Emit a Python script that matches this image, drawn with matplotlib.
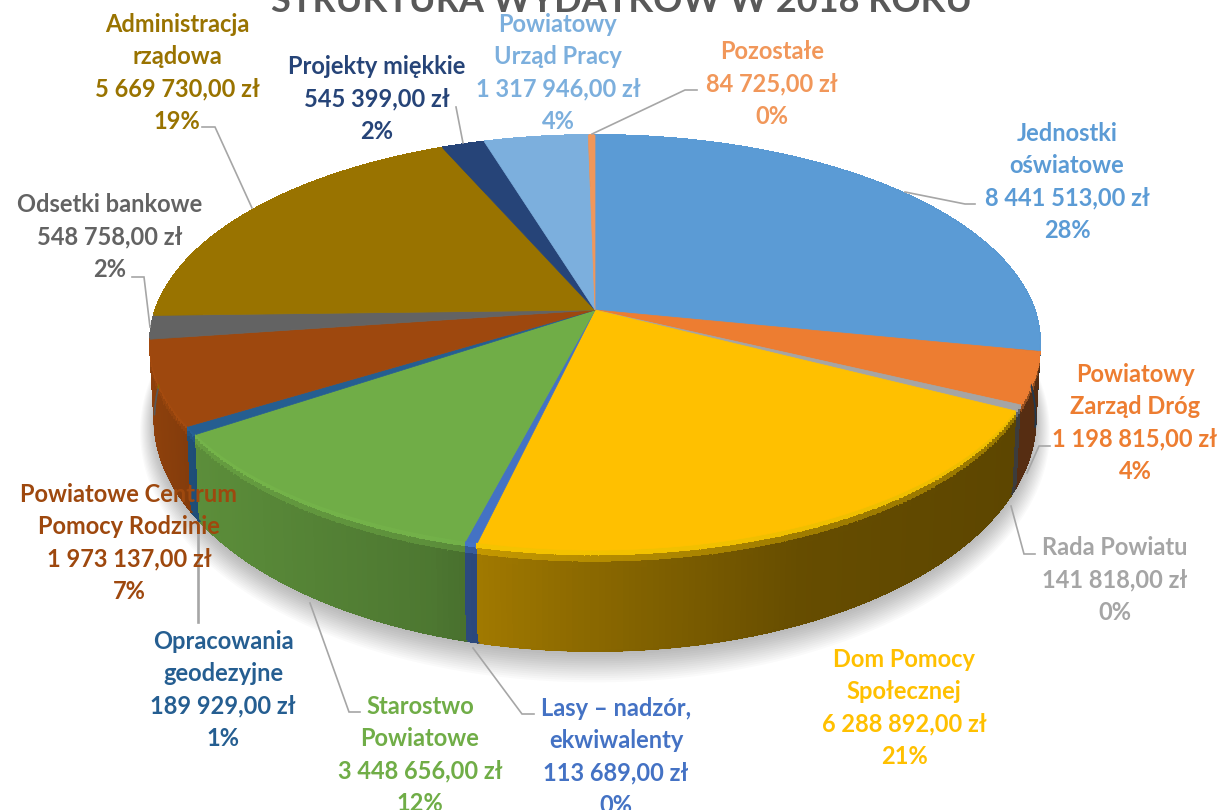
import numpy as np
import matplotlib
matplotlib.use("Agg")
import matplotlib.pyplot as plt
from matplotlib.collections import PolyCollection
from matplotlib.colors import to_rgb

# ---------- data ----------
TITLE = "STRUKTURA WYDATKÓW W 2018 ROKU"
names = ["Jednostki\noświatowe", "Powiatowy\nZarząd Dróg", "Rada Powiatu",
         "Dom Pomocy\nSpołecznej", "Lasy – nadzór,\nekwiwalenty",
         "Starostwo\nPowiatowe", "Opracowania\ngeodezyjne",
         "Powiatowe Centrum\nPomocy Rodzinie", "Odsetki bankowe",
         "Administracja\nrządowa", "Projekty miękkie",
         "Powiatowy\nUrząd Pracy", "Pozostałe"]
values = [8441513, 1198815, 141818, 6288892, 113689, 3448656, 189929,
          1973137, 548758, 5669730, 545399, 1317946, 84725]
colors = ["#5B9BD5", "#ED7D31", "#A5A5A5", "#FFC000", "#4472C4", "#70AD47",
          "#255E91", "#9E480E", "#636363", "#997300", "#264478", "#7CAFDD",
          "#F1975A"]

# ---------- layout (pixel space of the figure) ----------
W, H = 1219, 810
label_x = [1067, 1135, 1115, 904, 616, 420, 223, 129, 110, 177, 377, 558, 772]
label_y = [182, 423, 580, 708, 757, 755, 690, 543, 237, 73, 99, 73, 84]
leaders = [[(905, 192), (965, 204), (975, 204)],
           [(1027, 473), (1039, 446), (1050, 446)],
           [(1011, 506), (1024, 554), (1035, 554)],
           [(473, 648), (522, 714), (534, 714)],
           [(310, 603), (349, 712), (360, 712)],
           [(198, 528), (198, 622)],
           [(150, 327), (144, 277), (132, 277)],
           [(252, 208), (215, 127), (202, 127)],
           [(463, 143), (456, 107)],
           [(592, 134), (685, 90), (697, 90)]]
CX, CY, A, R, K = 595, 310, 439.5, 202.4, 0.157
DY, SX, SY = 72, 0.99, 1.12
FS = 17.0
LS = 1.5

plt.rcParams["font.family"] = ["Lato", "DejaVu Sans"]
fig = plt.figure(figsize=(W / 100, H / 100), dpi=100, facecolor="white")
ax = fig.add_axes([0, 0, 1, 1])
ax.set_xlim(0, W)
ax.set_ylim(H, 0)
ax.axis("off")


def top_pt(theta):
    u, v = np.sin(theta), np.cos(theta)
    w = 1 + K * v
    return CX + A * u / w, CY - R * v / w


def bot_pt(theta):
    u, v = np.sin(theta), np.cos(theta)
    w = 1 + K * v
    return CX + SX * A * u / w, CY + DY - SY * R * v / w


fractions = np.array(values, float) / np.sum(values)
edges = np.concatenate([[0], np.cumsum(fractions)]) * 2 * np.pi

# soft shadow under the drum
circle = np.linspace(0, 2 * np.pi, 361)
for i in range(14):
    bx, by = bot_pt(circle)
    grow = 1 + 0.0025 * i
    sx = CX + (bx - CX) * grow
    sy = CY + DY + 4 + i * 0.5 + (by - CY - DY) * (1 + 0.006 * i)
    ax.fill(sx, sy, color="#000000", alpha=0.02, lw=0, zorder=1)

# shaded side wall
XN = [-1, -0.9, -0.37, -0.26, 0, 0.46, 1]
SH = [0.90, 0.82, 0.69, 0.63, 0.54, 0.40, 0.36]
T = np.linspace(0, 1, 17)
polys, fcs, order = [], [], []
for k in range(len(values)):
    base = np.array(to_rgb(colors[k]))
    n = max(2, int(np.degrees(edges[k + 1] - edges[k]) * 1.5))
    th = np.linspace(edges[k], edges[k + 1], n + 1)
    tx, ty = top_pt(th)
    bx, by = bot_pt(th)
    for j in range(n):
        mid = 0.5 * (th[j] + th[j + 1])
        xn = (0.5 * (tx[j] + tx[j + 1]) - CX) / 445
        shade = np.interp(xn, XN, SH)
        for m in range(len(T) - 1):
            t0, t1 = T[m], T[m + 1]
            poly = [(tx[j] + (bx[j] - tx[j]) * t0, ty[j] + (by[j] - ty[j]) * t0),
                    (tx[j + 1] + (bx[j + 1] - tx[j + 1]) * t0, ty[j + 1] + (by[j + 1] - ty[j + 1]) * t0),
                    (tx[j + 1] + (bx[j + 1] - tx[j + 1]) * t1, ty[j + 1] + (by[j + 1] - ty[j + 1]) * t1),
                    (tx[j] + (bx[j] - tx[j]) * t1, ty[j] + (by[j] - ty[j]) * t1)]
            tm = 0.5 * (t0 + t1)
            s = np.clip(tm / 0.16, 0, 1)
            s = s * s * (3 - 2 * s)
            lit = np.clip(base * 1.06, 0, 1)
            col = lit * (1 - s) + base * shade * s
            polys.append(poly)
            fcs.append(col)
            order.append(np.cos(mid))
idx = np.argsort(-np.array(order), kind="stable")
pc = PolyCollection([polys[i] for i in idx],
                    facecolors=[fcs[i] for i in idx],
                    edgecolors=[fcs[i] for i in idx], linewidths=0.8,
                    antialiaseds=False, zorder=2)
ax.add_collection(pc)

# anti-aliased outer bottom edge of the wall
for k in range(len(values)):
    base = np.array(to_rgb(colors[k]))
    n = max(2, int(np.degrees(edges[k + 1] - edges[k]) * 1.5))
    th = np.linspace(edges[k], edges[k + 1], n + 1)
    bx, by = bot_pt(th)
    tx, _ = top_pt(th)
    for j in range(n):
        if np.cos(th[j]) < 0.05:
            shade = np.interp((tx[j] - CX) / 445, XN, SH)
            ax.plot(bx[j:j + 2], by[j:j + 2], color=base * shade, lw=1.2, zorder=2.5,
                    solid_capstyle="round")

# top face
for k in range(len(values)):
    n = max(2, int(np.degrees(edges[k + 1] - edges[k]) * 2))
    th = np.linspace(edges[k], edges[k + 1], n + 1)
    tx, ty = top_pt(th)
    ax.fill(np.r_[CX, tx], np.r_[CY, ty], facecolor=colors[k], edgecolor=colors[k],
            lw=0.5, zorder=3)

# leader lines
for i, seg in enumerate(leaders):
    xs, ys = zip(*seg)
    ax.plot(xs, ys, color="#A6A6A6", lw=1.9 if len(seg) == 2 and xs[0] == xs[1] else 1.2,
            zorder=4, solid_joinstyle="miter")

# title
ax.text(622, 12, TITLE, ha="center", va="baseline", fontsize=26, fontweight="bold",
        color="#595959", zorder=5)


def money(v):
    return f"{v:,d},00 zł".replace(",", " ", f"{v:,d}".count(","))


for k in range(len(values)):
    pct = int(round(fractions[k] * 100))
    ax.text(label_x[k], label_y[k], f"{names[k]}\n{money(values[k])}\n{pct}%",
            ha="center", va="center", ma="center", fontsize=FS, fontweight="bold",
            color=colors[k], linespacing=LS, zorder=6)

fig.savefig("out.png", dpi=100, facecolor="white")
